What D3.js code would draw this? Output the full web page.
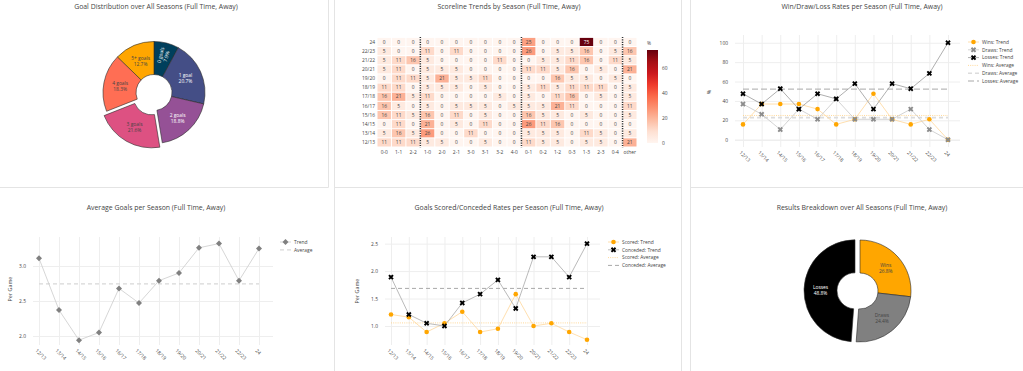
<!DOCTYPE html>
<html><head><meta charset="utf-8">
<script src="https://cdn.jsdelivr.net/npm/d3@7"></script>
<style>
body{margin:0;background:#fff;}
svg{display:block;font-family:"Open Sans",sans-serif;}
</style>
</head><body>
<svg id="c" width="1023" height="371"></svg>
<script>
// ---------------- DATA ----------------
const seasons = ["12/13","13/14","14/15","15/16","16/17","17/18","18/19","19/20","20/21","21/22","22/23","24"];

const goalCats = ["0 goals","1 goal","2 goals","3 goals","4 goals","5+ goals"];
const goalPct  = [7.9, 20.7, 18.8, 21.6, 18.3, 12.7];

const scorelines = ["0-0","1-1","2-2","1-0","2-0","2-1","3-0","3-1","3-2","4-0","0-1","0-2","1-2","0-3","1-3","2-3","0-4","other"];
const scorelineGroupEnds = ["2-2","4-0","0-4"];
// rows in season order (12/13 ... 24), % of matches
const scoreHeat = [
  [11,11,11, 5,5,0,0,5,0,0, 11,5,5,0,5,5,0, 21],
  [5,16,5, 26,0,0,11,0,0,0, 5,5,5,0,11,5,0, 5],
  [0,11,0, 21,0,5,0,11,0,0, 26,11,16,0,0,0,0, 0],
  [16,11,5, 16,0,11,0,5,0,0, 16,5,5,0,5,0,0, 5],
  [16,5,0, 5,0,5,5,5,0,5, 5,5,21,11,0,0,0, 11],
  [16,21,5, 11,0,0,0,0,5,0, 5,0,11,16,0,5,0, 5],
  [11,11,0, 5,5,5,0,5,0,0, 5,11,5,11,11,11,0, 5],
  [0,11,11, 5,21,5,5,11,0,0, 0,0,16,5,5,0,5, 0],
  [5,11,0, 5,5,5,0,0,0,0, 11,11,5,16,0,5,0, 21],
  [5,11,16, 5,0,0,0,0,11,0, 0,5,5,11,16,0,11, 5],
  [5,0,0, 11,0,11,0,0,0,0, 26,0,5,5,16,0,5, 16],
  [0,0,0, 0,0,0,0,0,0,0, 25,0,0,0,75,0,0, 0]
];
const heatMax = 75;
const colorbarTicks = [0,20,40,60];

const winRate  = [15.8,36.8,36.8,36.8,31.6,15.8,21.1,47.4,21.1,15.8,21.1,0];
const drawRate = [36.8,26.3,10.5,31.6,21.1,42.1,21.1,21.1,21.1,31.6,10.5,0];
const lossRate = [47.4,36.8,52.6,31.6,47.4,42.1,57.9,31.6,57.9,52.6,68.4,100];
const rateTicks = [0,20,40,60,80,100];

const avgGoals = [3.11,2.37,1.94,2.05,2.68,2.47,2.79,2.90,3.26,3.32,2.79,3.25];
const avgGoalTicks = [2,2.5,3];

const scoredRate   = [1.21,1.16,0.89,1.05,1.26,0.89,0.95,1.58,1.00,1.05,0.89,0.75];
const concededRate = [1.89,1.21,1.05,1.00,1.42,1.58,1.84,1.32,2.26,2.26,1.89,2.50];
const goalRateTicks = [1,1.5,2,2.5];

const resultCats = ["Wins","Draws","Losses"];
const resultPct  = [26.8,24.4,48.8];

// ---------------- STYLE ----------------
const TXT = "#444", FS = 4.9, TFS = 6.9, GRID = "#eeeeee";
const svg = d3.select("#c");
svg.append("rect").attr("width",1023).attr("height",371).attr("fill","#fff");

// card borders
const bc = "#e4e4e4";
[[328.5,0,328.5,187.5],[334.5,0,334.5,371],[681.5,0,681.5,371],[690.5,0,690.5,371],
 [0,187.5,328.5,187.5],[334.5,187.5,681.5,187.5],[690.5,187.5,1023,187.5]].forEach(l=>{
  svg.append("line").attr("x1",l[0]).attr("y1",l[1]).attr("x2",l[2]).attr("y2",l[3])
    .attr("stroke",bc).attr("stroke-width",1);
});

function title(x,y,t){
  svg.append("text").attr("x",x).attr("y",y).attr("text-anchor","middle")
    .attr("fill",TXT).style("font-size",TFS+"px").text(t);
}
title(156,9,"Goal Distribution over All Seasons (Full Time, Away)");
title(509,9,"Scoreline Trends by Season (Full Time, Away)");
title(862,9,"Win/Draw/Loss Rates per Season (Full Time, Away)");
title(156,210,"Average Goals per Season (Full Time, Away)");
title(509,210,"Goals Scored/Conceded Rates per Season (Full Time, Away)");
title(862,210,"Results Breakdown over All Seasons (Full Time, Away)");

// ---------------- DONUTS ----------------
function donut(cx,cy,cats,vals,colors,pullIdx){
  const ro = 51, ri = 18, pull = 5;
  const g = svg.append("g").attr("transform",`translate(${cx},${cy})`);
  const pie = d3.pie().sort(null).value(d=>d)(vals);
  const arc = d3.arc().innerRadius(ri).outerRadius(ro);
  pie.forEach((p,i)=>{
    const mid = (p.startAngle+p.endAngle)/2;
    const off = i===pullIdx ? pull : 0;
    const dx = Math.sin(mid)*off, dy = -Math.cos(mid)*off;
    const sg = g.append("g").attr("transform",`translate(${dx},${dy})`);
    sg.append("path").attr("d",arc(p)).attr("fill",colors[i])
      .attr("stroke","#2a2a2a").attr("stroke-width",0.6);
    const span = p.endAngle-p.startAngle;
    const tc = d3.hsl(colors[i]).l < 0.5 ? "#fff" : TXT;
    const rad = span < 0.6;
    const rr = rad ? 38 : (ri+ro)/2;
    const tx = Math.sin(mid)*rr, ty = -Math.cos(mid)*rr;
    const rot = rad ? (mid*180/Math.PI - 90) : 0;
    const t = sg.append("text").attr("transform",`translate(${tx},${ty}) rotate(${rot})`)
      .attr("text-anchor","middle").attr("fill",tc).style("font-size",FS+"px");
    t.append("tspan").attr("x",0).attr("y",-1).text(cats[i]);
    t.append("tspan").attr("x",0).attr("y",5).text(vals[i].toFixed(1)+"%");
  });
}
donut(154,92.5,goalCats,goalPct,["#003f5c","#444e86","#955196","#dd5182","#ff6e54","#ffa600"],
      goalPct.indexOf(d3.max(goalPct)));
donut(860,291,resultCats,resultPct,["#ffa600","#808080","#000000"],
      resultPct.indexOf(d3.max(resultPct)));

// ---------------- HEATMAP ----------------
(function(){
  const g = svg.append("g");
  const x = d3.scaleBand().domain(scorelines).range([377,637]);
  const y = d3.scaleBand().domain(seasons).range([147,37.4]);
  const reds = ['#fff5f0','#fee0d2','#fcbba1','#fc9272','#fb6a4a','#ef3b2c','#cb181d','#a50f15','#67000d'];
  const col = d3.scaleLinear().domain(reds.map((_,i)=>i/(reds.length-1)*heatMax)).range(reds);
  const cells = [];
  scoreHeat.forEach((row,ri)=>row.forEach((v,ci)=>cells.push({s:seasons[ri],k:scorelines[ci],v})));
  g.selectAll("rect.c").data(cells).join("rect")
    .attr("x",d=>x(d.k)+0.5).attr("y",d=>y(d.s)+0.5)
    .attr("width",x.bandwidth()-1).attr("height",y.bandwidth()-1)
    .attr("fill",d=>col(d.v));
  g.selectAll("text.v").data(cells).join("text")
    .attr("x",d=>x(d.k)+x.bandwidth()/2).attr("y",d=>y(d.s)+y.bandwidth()/2+1.7)
    .attr("text-anchor","middle").style("font-size",FS+"px")
    .attr("fill",d=>d3.lab(col(d.v)).l<50?"#fff":TXT).text(d=>d.v);
  // separators
  scorelineGroupEnds.forEach(k=>{
    const xx = x(k)+x.bandwidth();
    g.append("line").attr("x1",xx).attr("x2",xx).attr("y1",y.range()[1]-0.5).attr("y2",y.range()[0]+0.5)
      .attr("stroke","#333").attr("stroke-width",1.5).attr("stroke-dasharray","1.2,1.2");
  });
  // axis labels
  g.selectAll("text.xl").data(scorelines).join("text")
    .attr("x",d=>x(d)+x.bandwidth()/2).attr("y",153.5).attr("text-anchor","middle")
    .attr("fill",TXT).style("font-size",FS+"px").text(d=>d);
  g.selectAll("text.yl").data(seasons).join("text")
    .attr("x",375).attr("y",d=>y(d)+y.bandwidth()/2+1.7).attr("text-anchor","end")
    .attr("fill",TXT).style("font-size",FS+"px").text(d=>d);
  // colorbar
  const cb = d3.scaleLinear().domain([0,heatMax]).range([143,50]);
  const grad = svg.append("defs").append("linearGradient").attr("id","rg")
    .attr("x1",0).attr("y1",1).attr("x2",0).attr("y2",0);
  reds.forEach((c,i)=>grad.append("stop").attr("offset",i/(reds.length-1)).attr("stop-color",c));
  g.append("rect").attr("x",647).attr("y",cb(heatMax)).attr("width",11)
    .attr("height",cb(0)-cb(heatMax)).attr("fill","url(#rg)");
  g.selectAll("text.cb").data(colorbarTicks).join("text")
    .attr("x",662).attr("y",d=>cb(d)+1.7).attr("fill",TXT).style("font-size",FS+"px").text(d=>d);
  g.append("text").attr("x",647).attr("y",44.5).attr("fill",TXT).style("font-size",FS+"px").text("%");
})();

// ---------------- LINE PANELS ----------------
function xPath(r){
  const a = r*0.8/Math.SQRT2*1.4;
  return `M0,${a}l${a},${a}l${a},-${a}l-${a},-${a}l${a},-${a}l-${a},-${a}l-${a},${a}l-${a},-${a}l-${a},${a}l${a},${a}l-${a},${a}l${a},${a}Z`;
}
function marker(g,type,cx,cy,color){
  if(type==="circle") g.append("circle").attr("cx",cx).attr("cy",cy).attr("r",2.3).attr("fill",color);
  else if(type==="x") g.append("path").attr("d",xPath(1.7)).attr("transform",`translate(${cx},${cy})`).attr("fill",color);
  else if(type==="diamond") g.append("path").attr("d","M3,0L0,3L-3,0L0,-3Z").attr("transform",`translate(${cx},${cy})`).attr("fill",color);
}
function linePanel(o){
  const g = svg.append("g");
  const x = d3.scalePoint().domain(seasons).range([o.px0,o.px1]);
  const y = d3.scaleLinear().domain(o.yd).range([o.b,o.t]);
  const ya = g.append("g").attr("transform",`translate(${o.l},0)`)
    .call(d3.axisLeft(y).tickValues(o.ticks).tickSize(-(o.r-o.l)).tickPadding(7));
  ya.attr("font-size",null).attr("font-family",null);
  ya.select(".domain").remove();
  ya.selectAll("line").attr("stroke",GRID).attr("stroke-width",d=>d===0?1.6:1);
  ya.selectAll("text").attr("fill",TXT).style("font-size",FS+"px");
  const xa = g.append("g").attr("transform",`translate(0,${o.b})`)
    .call(d3.axisBottom(x).tickSize(-(o.b-o.t)).tickFormat(""));
  xa.select(".domain").remove();
  xa.selectAll("line").attr("stroke",GRID);
  g.selectAll("text.xl").data(seasons).join("text")
    .attr("transform",d=>`translate(${x(d)-4},${o.b+6}) rotate(45)`)
    .attr("fill",TXT).style("font-size",FS+"px").text(d=>d);
  g.append("text").attr("transform",`translate(${o.yt[0]},${o.yt[1]}) rotate(-90)`)
    .attr("text-anchor","middle").attr("fill",TXT).style("font-size","5.4px").text(o.ytitle);
  // averages
  o.avgs.forEach(a=>{
    const m = d3.mean(a.vals);
    g.append("line").attr("x1",x(seasons[0])).attr("x2",x(seasons[seasons.length-1]))
      .attr("y1",y(m)).attr("y2",y(m)).attr("stroke",a.color).attr("stroke-width",a.w)
      .attr("stroke-dasharray",a.dash);
  });
  // trends
  const line = d3.line().x((d,i)=>x(seasons[i])).y(d=>y(d));
  o.series.forEach(s=>{
    g.append("path").attr("d",line(s.vals)).attr("fill","none").attr("stroke",s.line).attr("stroke-width",0.8);
  });
  o.series.forEach(s=>{
    s.vals.forEach((v,i)=>marker(g,s.sym,x(seasons[i]),y(v),s.color));
  });
  // legend
  const items = o.series.map(s=>({name:s.name,line:s.line,w:0.8,dash:null,sym:s.sym,color:s.color}))
    .concat(o.avgs.map(a=>({name:a.name,line:a.color,w:a.w,dash:a.dash})));
  items.forEach((it,i)=>{
    const ly = o.ly + i*7.8;
    g.append("line").attr("x1",o.lx-14).attr("x2",o.lx-3).attr("y1",ly).attr("y2",ly)
      .attr("stroke",it.line).attr("stroke-width",it.w).attr("stroke-dasharray",it.dash);
    if(it.sym) marker(g,it.sym,o.lx-8.5,ly,it.color);
    g.append("text").attr("x",o.lx).attr("y",ly+1.7).attr("fill",TXT).style("font-size",FS+"px").text(it.name);
  });
}

linePanel({l:735,r:960,t:35,b:147,px0:743,px1:948,yd:[-7.5,108],ticks:rateTicks,
  ytitle:"%",yt:[711,92],lx:982,ly:42,
  series:[
    {name:"Wins: Trend",vals:winRate,sym:"circle",color:"#ffa600",line:"#ffd79a"},
    {name:"Draws: Trend",vals:drawRate,sym:"x",color:"#8c8c8c",line:"#c8c8c8"},
    {name:"Losses: Trend",vals:lossRate,sym:"x",color:"#000",line:"#9a9a9a"}],
  avgs:[
    {name:"Wins: Average",vals:winRate,color:"#ffcf80",w:0.8,dash:"1,1.2"},
    {name:"Draws: Average",vals:drawRate,color:"#dcdcdc",w:1.6,dash:"4,3"},
    {name:"Losses: Average",vals:lossRate,color:"#a8a8a8",w:1,dash:"6,3"}]
});

linePanel({l:33,r:273,t:237,b:345,px0:39,px1:259,yd:[1.871,3.414],ticks:avgGoalTicks,
  ytitle:"Per Game",yt:[12,289],lx:294,ly:242,
  series:[{name:"Trend",vals:avgGoals,sym:"diamond",color:"#808080",line:"#cccccc"}],
  avgs:[{name:"Average",vals:avgGoals,color:"#d8d8d8",w:1.2,dash:"4,3"}]
});

linePanel({l:385,r:600,t:237,b:345,px0:391,px1:587,yd:[0.654,2.621],ticks:goalRateTicks,
  ytitle:"Per Game",yt:[359,291],lx:622,ly:242,
  series:[
    {name:"Scored: Trend",vals:scoredRate,sym:"circle",color:"#ffa600",line:"#ffd79a"},
    {name:"Conceded: Trend",vals:concededRate,sym:"x",color:"#000",line:"#a8a8a8"}],
  avgs:[
    {name:"Scored: Average",vals:scoredRate,color:"#ffcf80",w:0.8,dash:"1,1.2"},
    {name:"Conceded: Average",vals:concededRate,color:"#a8a8a8",w:1,dash:"4,3"}]
});
</script>
</body></html>
